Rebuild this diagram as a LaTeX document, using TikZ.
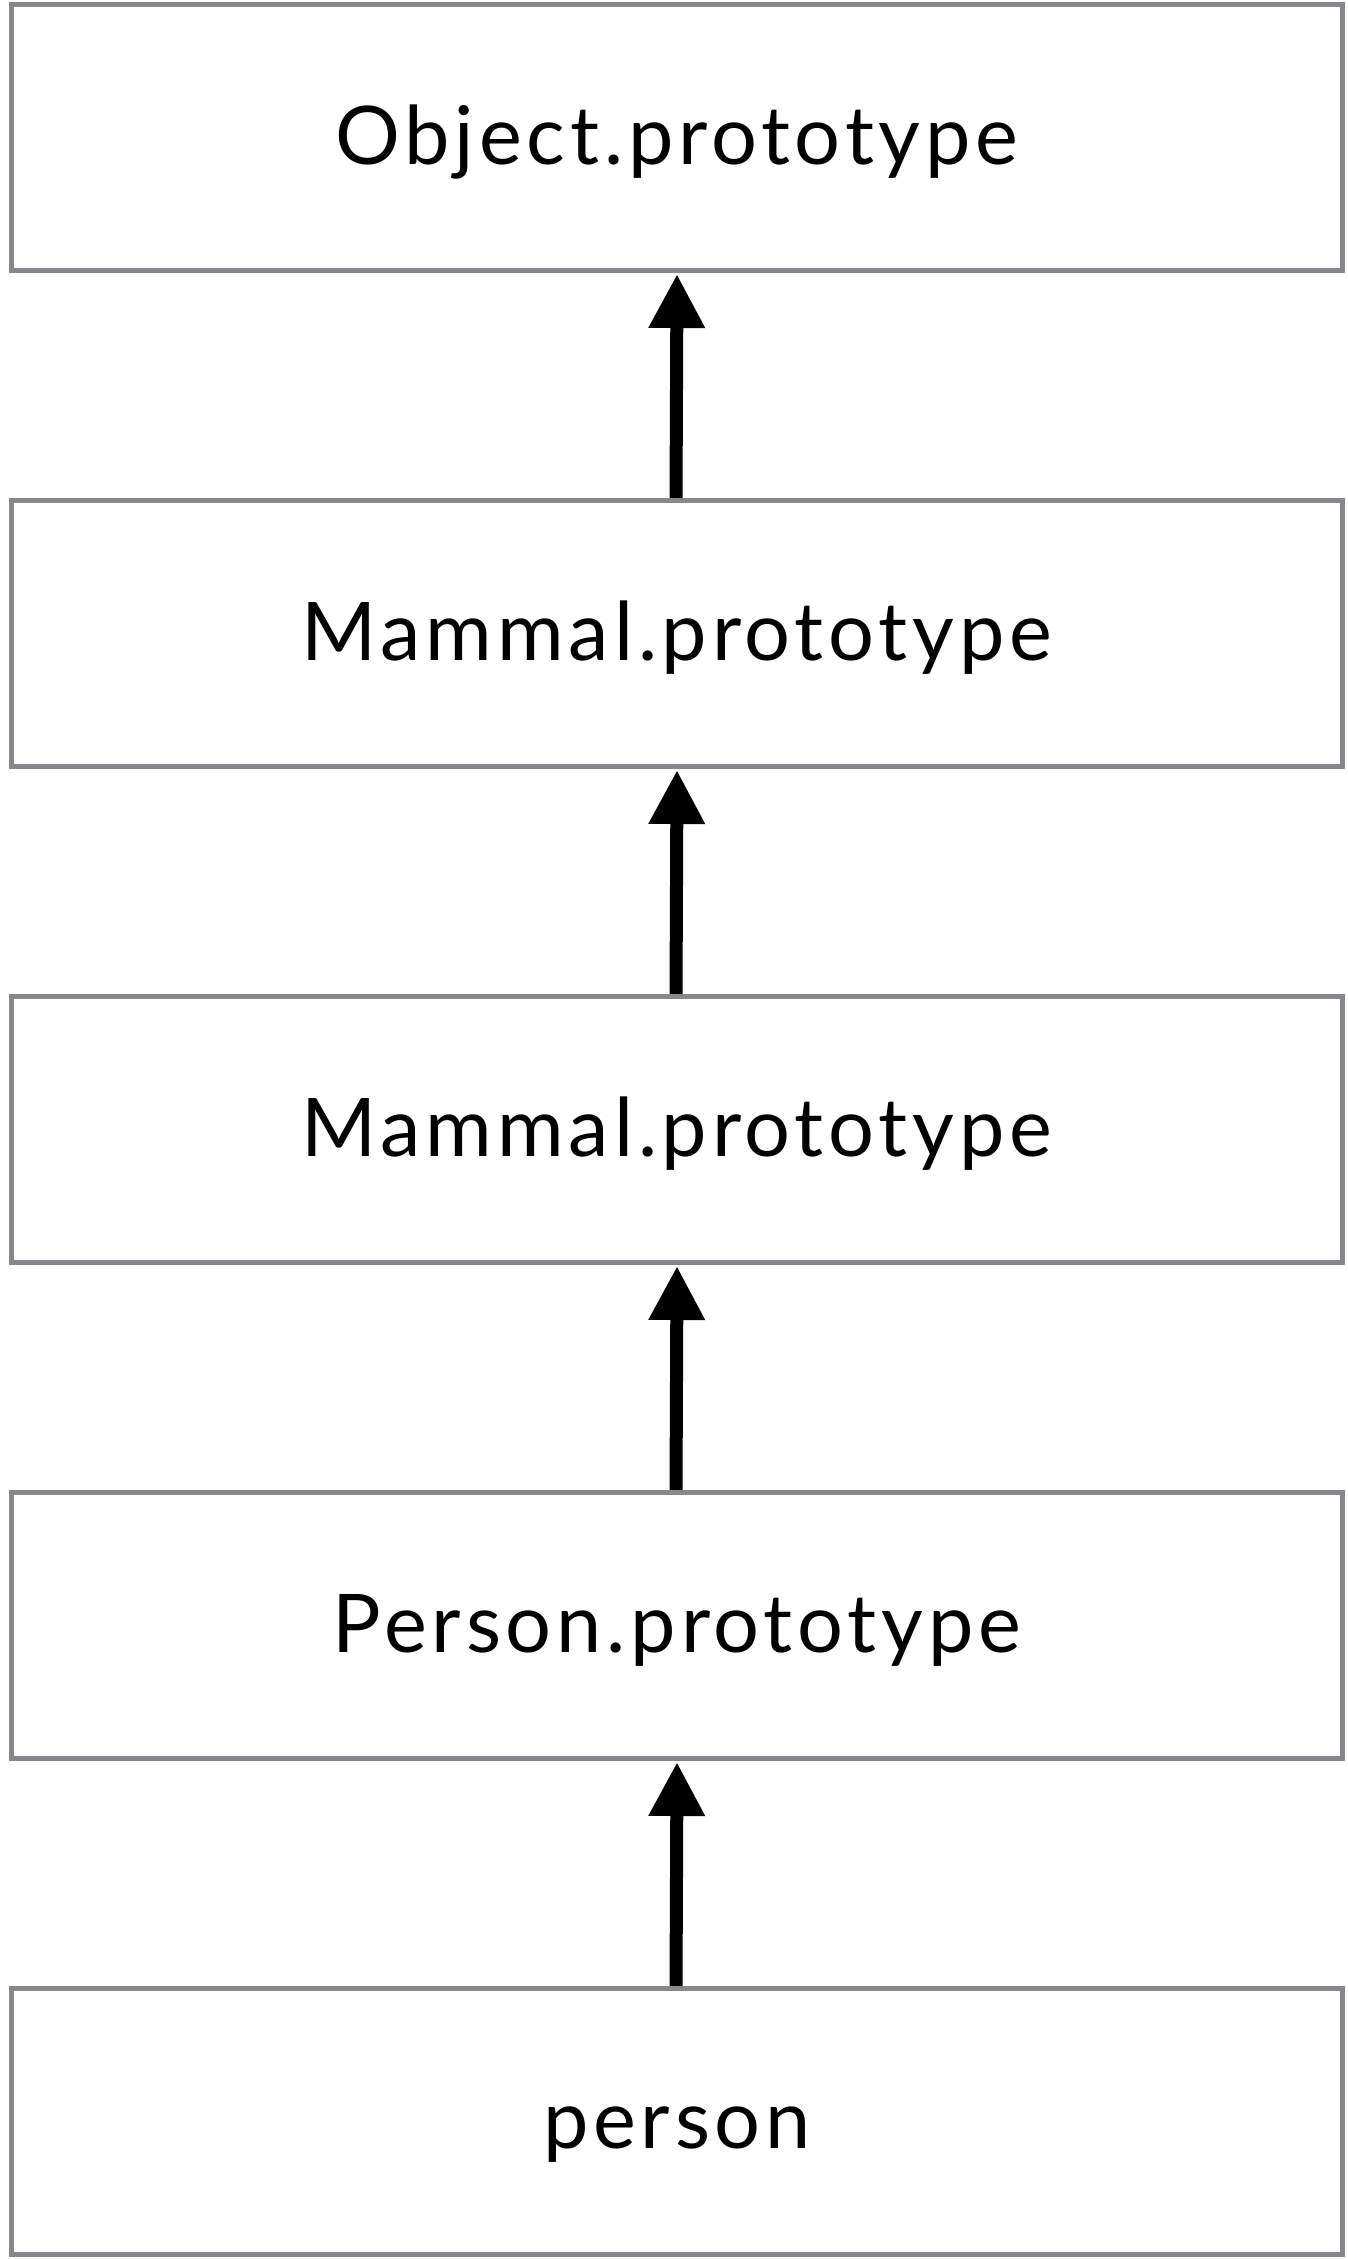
\documentclass[tikz,border=0pt]{standalone}
\usepackage{fontspec}
\setmainfont{Lato}[LetterSpace=6]
\usetikzlibrary{arrows.meta,backgrounds}
\definecolor{boxgray}{HTML}{86888C}
\tikzset{
  protobox/.style={draw=boxgray, fill=white, line width=5pt, minimum width=1331pt, minimum height=266pt,
    inner sep=0pt, outer sep=0pt, text height=60pt, text depth=6pt,
    font=\fontsize{81}{96}\selectfont},
  uparrow/.style={line width=13pt, -{Triangle[width=53pt,length=54pt]}}
}
\begin{document}
\begin{tikzpicture}[x=1pt,y=-1pt]
\useasboundingbox (0,0) rectangle (1347,2259);
\node[protobox] (b1) at (677,137.5) {Object.prototype};
\node[protobox] (b2) at (677,633.5) {Mammal.prototype};
\node[protobox] (b3) at (677,1129.5) {Mammal.prototype};
\node[protobox] (b4) at (677,1625.5) {Person.prototype};
\node[protobox] (b5) at (677,2121.5) {person};
\begin{scope}[on background layer]
\draw[uparrow] ([xshift=-1pt]b2.north) -- ([yshift=-3.5pt]b1.south);
\draw[uparrow] ([xshift=-1pt]b3.north) -- ([yshift=-3.5pt]b2.south);
\draw[uparrow] ([xshift=-1pt]b4.north) -- ([yshift=-3.5pt]b3.south);
\draw[uparrow] ([xshift=-1pt]b5.north) -- ([yshift=-3.5pt]b4.south);
\end{scope}
\end{tikzpicture}
\end{document}
